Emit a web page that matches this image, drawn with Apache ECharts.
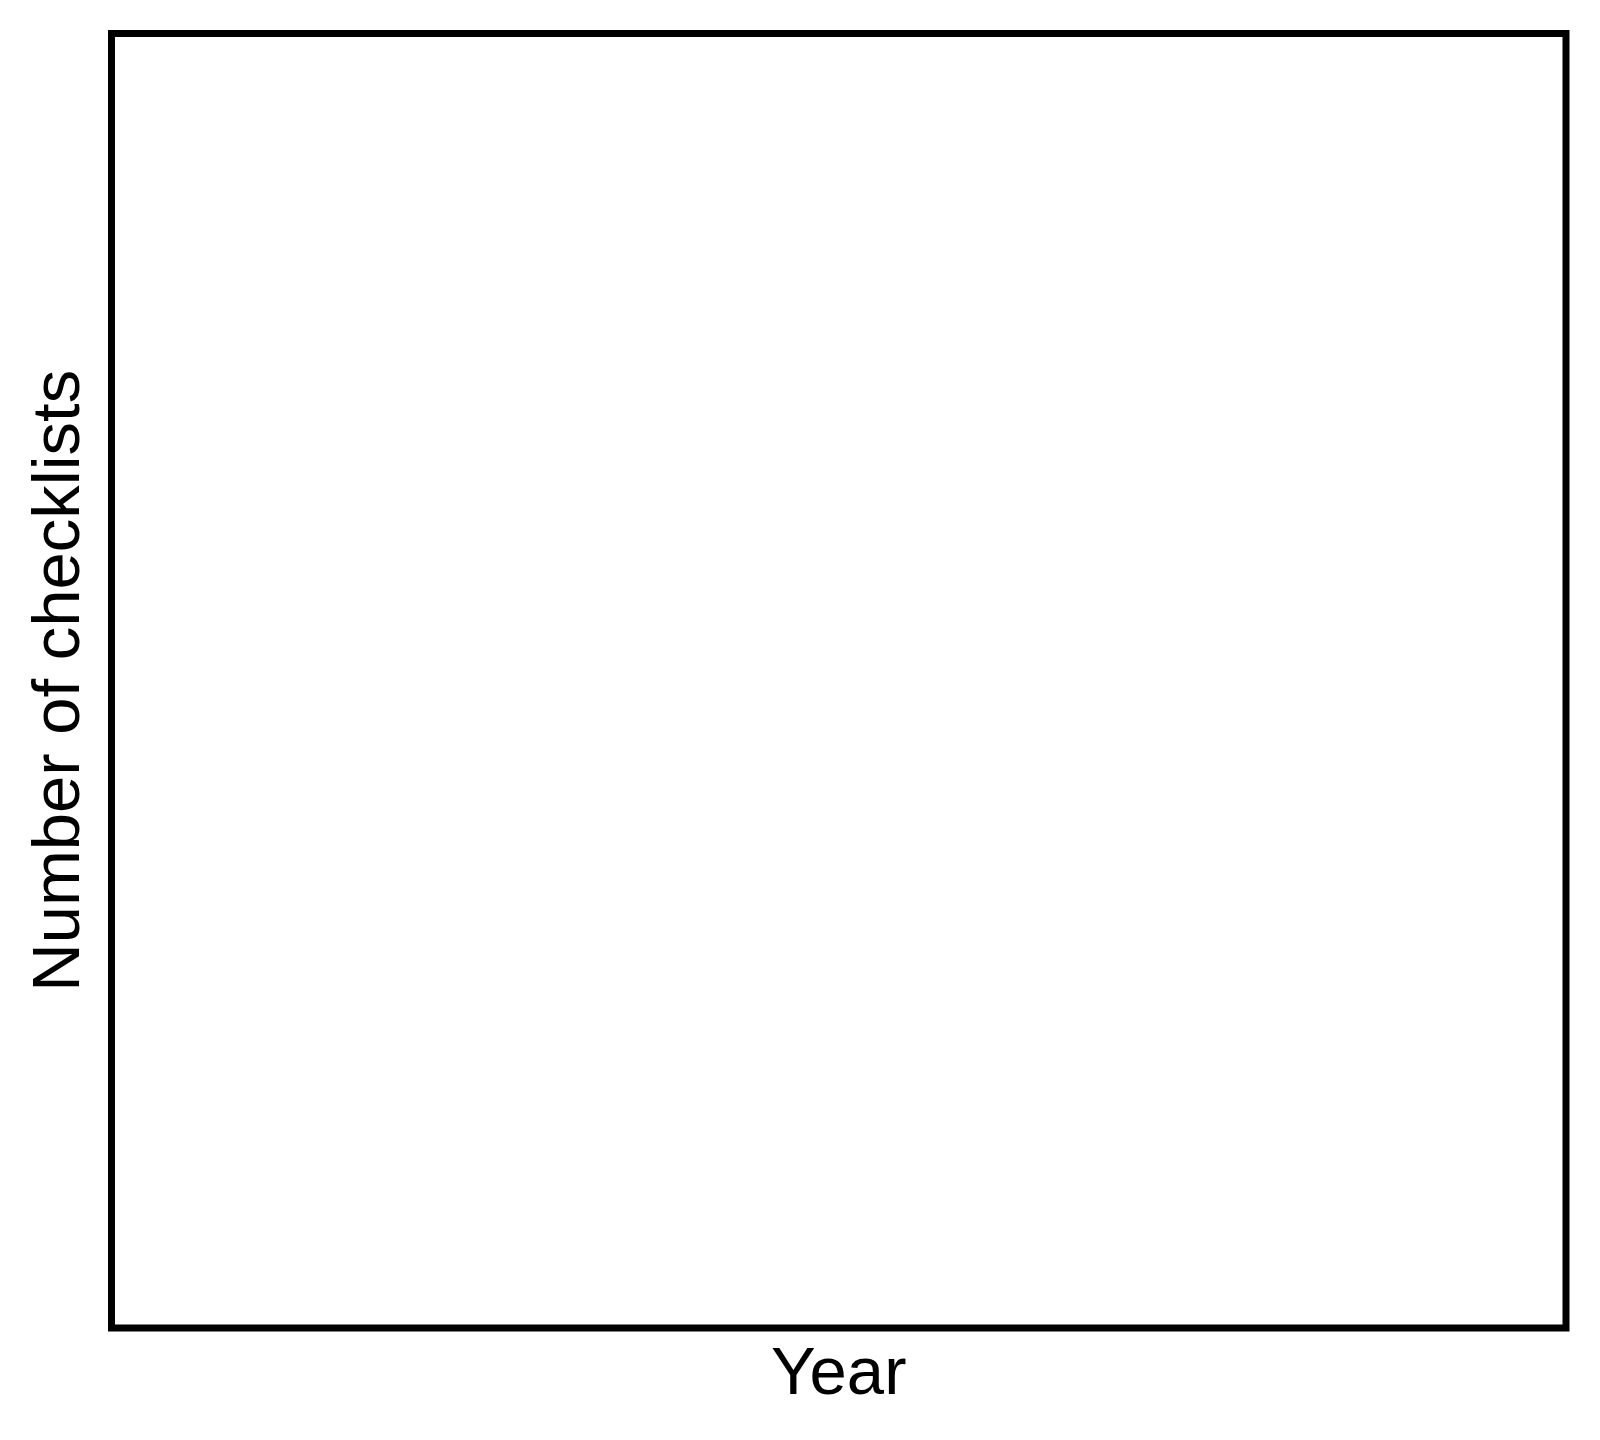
<!DOCTYPE html>
<html>
<head>
<meta charset="utf-8">
<title>Number of checklists by year</title>
<script src="https://cdn.jsdelivr.net/npm/echarts@6/dist/echarts.min.js"></script>
<style>
  html, body { margin: 0; padding: 0; background: #ffffff; }
  #chart { width: 1600px; height: 1440px; }
</style>
</head>
<body>
<div id="chart"></div>
<script>
// 원본 그림에는 데이터가 없다 — 빈 프레임과 축 제목만 있다.
const years = [];
const checklists = [];

const FONT = '"Liberation Sans", Arial, Helvetica, sans-serif';

const chart = echarts.init(document.getElementById("chart"), null, { renderer: "canvas" });

chart.setOption({
  backgroundColor: "#ffffff",
  textStyle: { fontFamily: FONT, color: "#000000" },
  animation: false,
  grid: {
    show: true,
    left: 111.5,
    top: 33.5,
    right: 34,
    bottom: 112,
    borderColor: "#000000",
    borderWidth: 7,
    backgroundColor: "transparent",
  },
  xAxis: {
    type: "category",
    data: years,
    name: "Year",
    nameLocation: "middle",
    nameGap: 14,
    nameTextStyle: { fontFamily: FONT, fontSize: 67, color: "#000000" },
    axisLine: { show: false },
    axisTick: { show: false },
    axisLabel: { show: false },
    splitLine: { show: false },
  },
  yAxis: {
    type: "value",
    name: "Number of checklists",
    nameLocation: "middle",
    nameGap: 17,
    nameTextStyle: { fontFamily: FONT, fontSize: 67, color: "#000000" },
    axisLine: { show: false },
    axisTick: { show: false },
    axisLabel: { show: false },
    splitLine: { show: false },
  },
  series: [
    {
      type: "line",
      data: checklists,
      showSymbol: false,
      lineStyle: { color: "#000000" },
    },
  ],
});
</script>
</body>
</html>
